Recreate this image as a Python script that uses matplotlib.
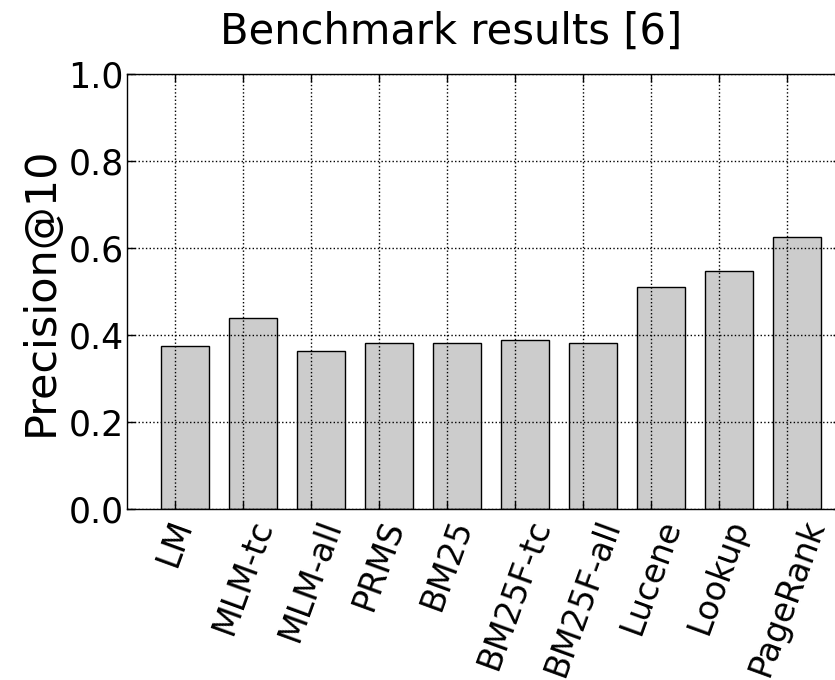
import numpy as np
import matplotlib
matplotlib.use("Agg")
import matplotlib.pyplot as plt

categories = ["LM", "MLM-tc", "MLM-all", "PRMS", "BM25",
              "BM25F-tc", "BM25F-all", "Lucene", "Lookup", "PageRank"]
precision_at_10 = [0.375, 0.439, 0.364, 0.381, 0.381,
                   0.390, 0.381, 0.511, 0.547, 0.625]
y_ticks = [0.0, 0.2, 0.4, 0.6, 0.8, 1.0]
y_tick_labels = ["0.0", "0.2", "0.4", "0.6", "0.8", "1.0"]
title = "Benchmark results [6]"
y_label = "Precision@10"

plt.rcParams['font.family'] = ['DejaVu Sans']

fig = plt.figure(figsize=(8.35, 6.8), dpi=100)
ax = fig.add_axes([0.1525, 0.251, 0.8551, 0.6401])

ind = np.arange(len(categories))
bar_width = 0.7
ax.bar(ind, precision_at_10, width=bar_width, align='edge',
       color='#cccccc', edgecolor='black', linewidth=1.0, zorder=1)

ax.set_xlim(-0.5, len(categories))
ax.set_ylim(0.0, 1.0)
ax.set_xticks(ind + 0.2)
ax.set_xticklabels(categories, rotation=70, ha='center', fontsize=24)
ax.set_yticks(y_ticks)
ax.set_yticklabels(y_tick_labels, fontsize=25)

ax.tick_params(axis='both', direction='in', length=6, width=1,
               top=True, right=True)
ax.tick_params(axis='x', pad=4)
ax.tick_params(axis='y', pad=2.5)

ax.set_axisbelow(False)
ax.grid(True, color='black', linestyle=':', linewidth=1.0, zorder=3)
for s in ax.spines.values():
    s.set_linewidth(1.0)
    s.set_zorder(4)

ax.set_ylabel(y_label, fontsize=31, labelpad=5)
ax.set_title(title, fontsize=30, pad=22, x=0.454)

fig.savefig("out.png", dpi=100)
